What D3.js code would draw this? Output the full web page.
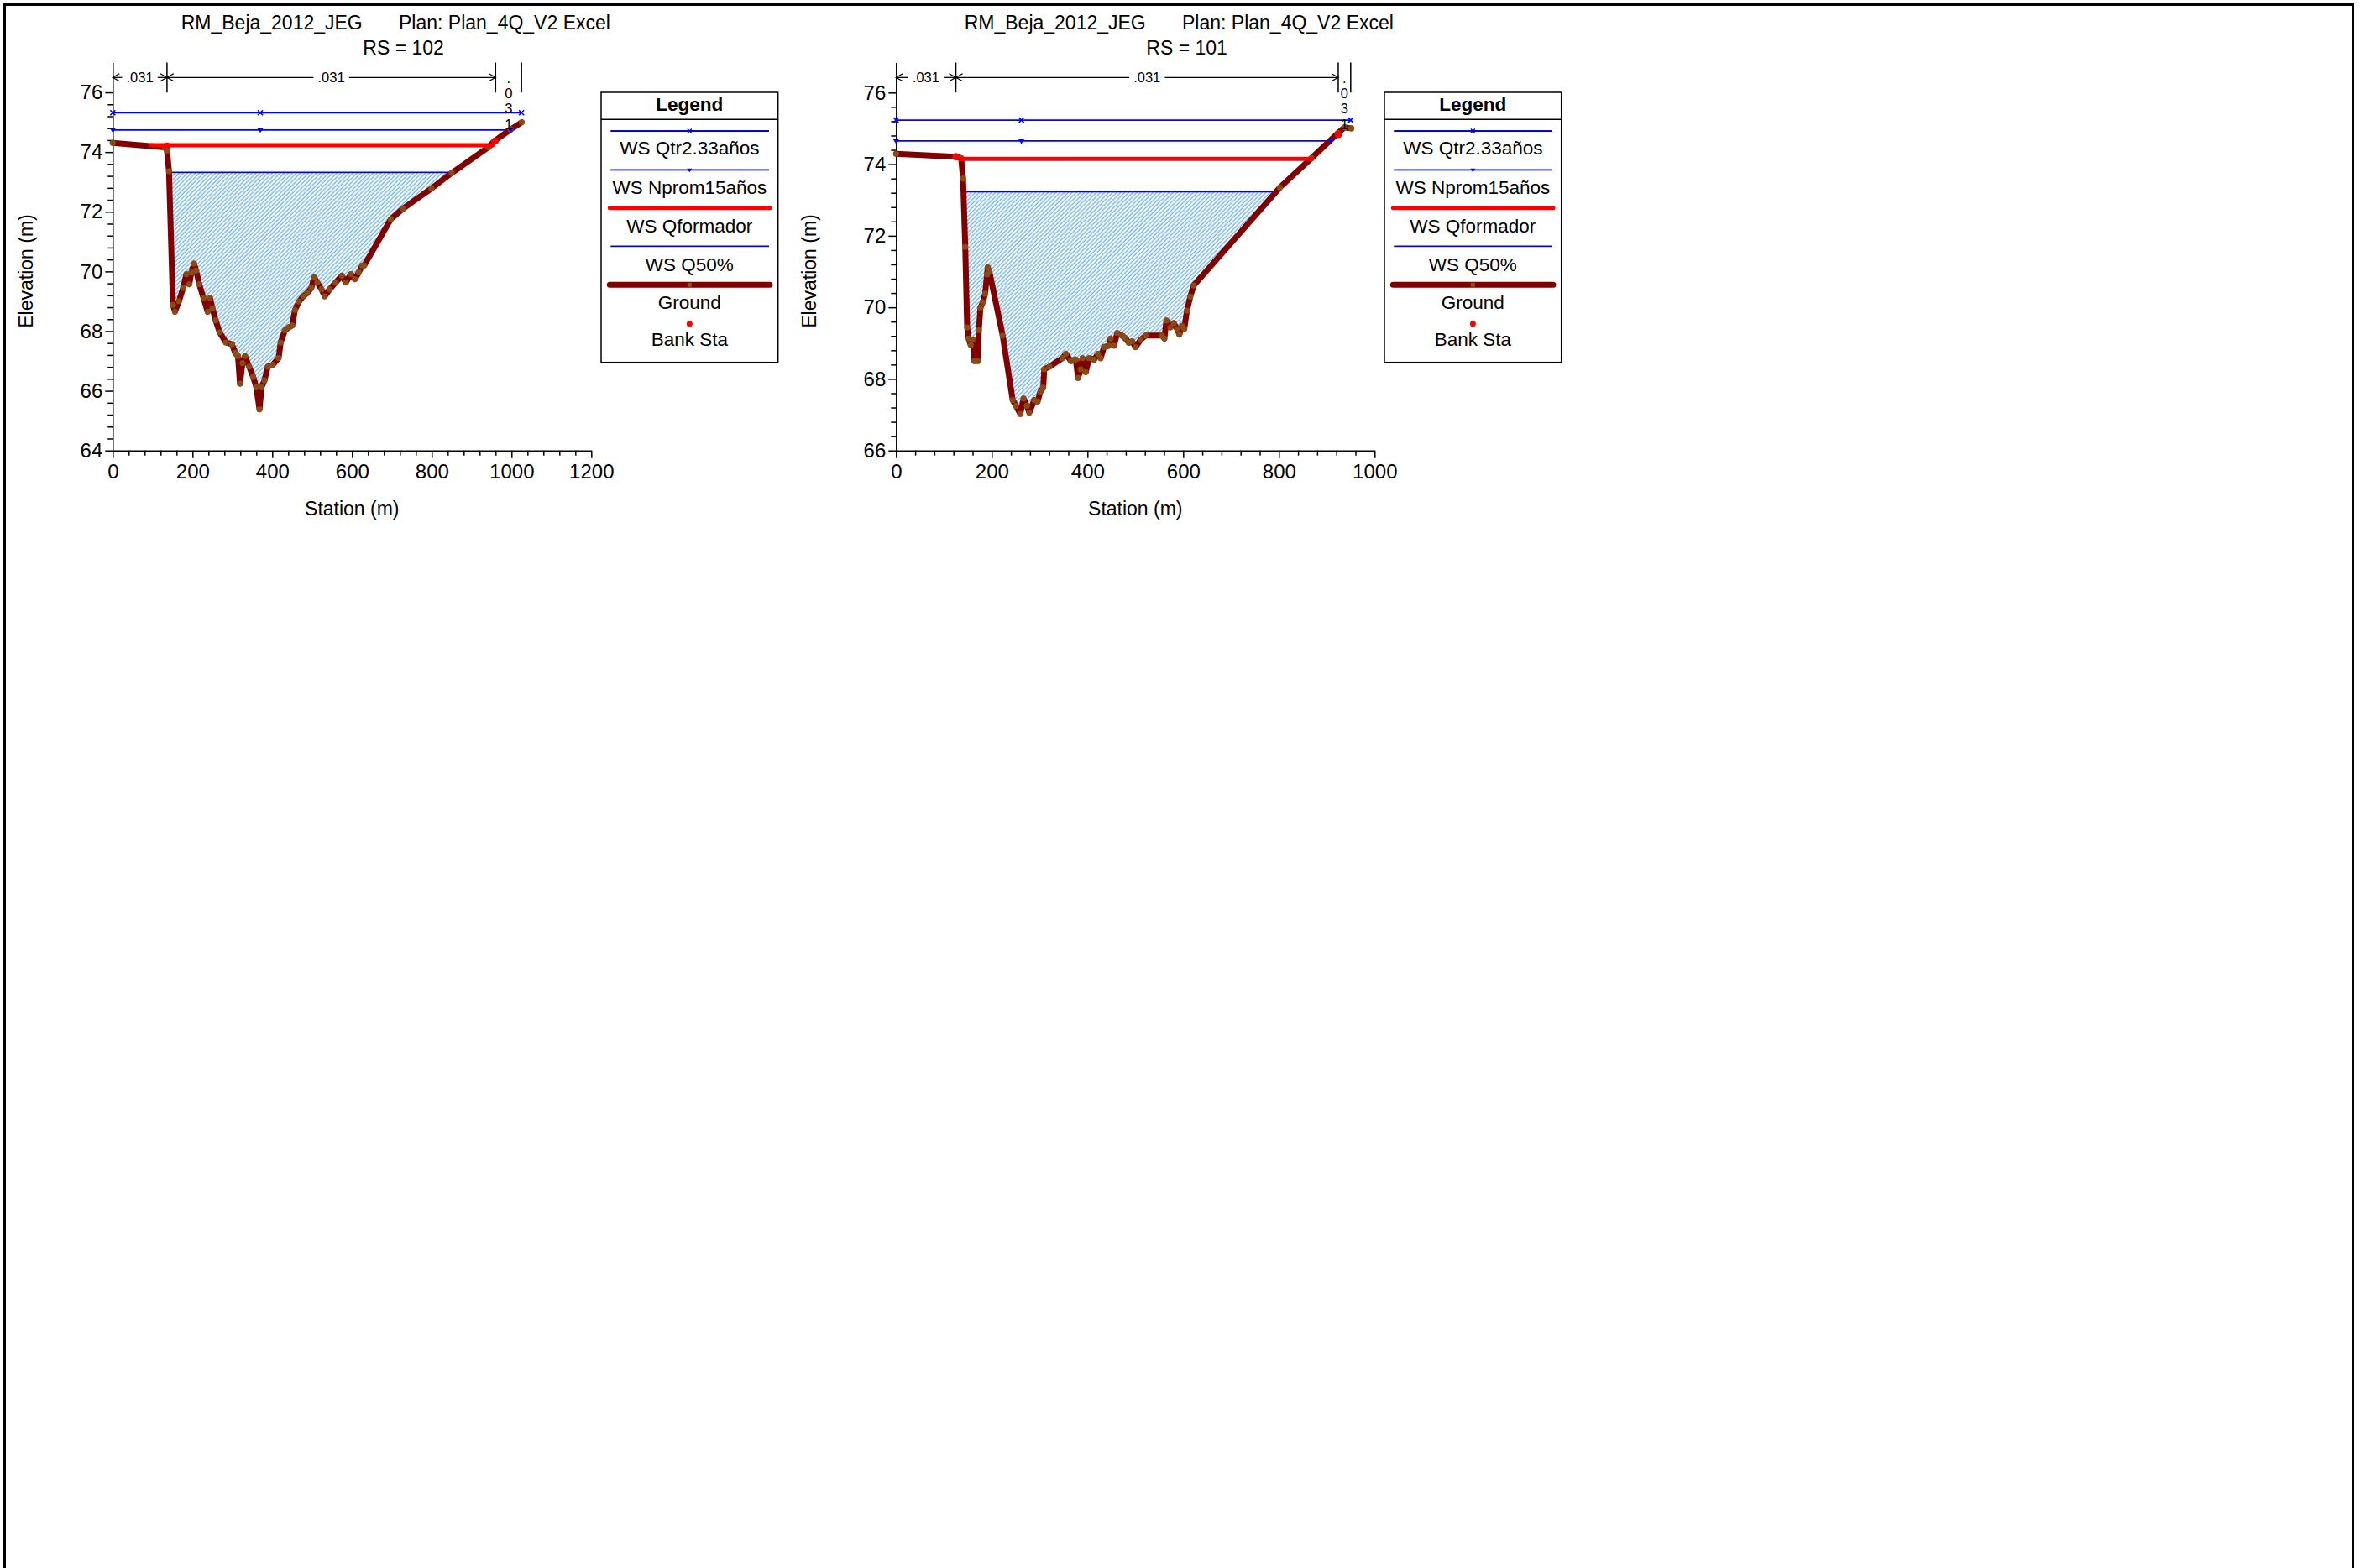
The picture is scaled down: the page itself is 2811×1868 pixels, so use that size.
<!DOCTYPE html>
<html><head><meta charset="utf-8">
<script src="https://cdn.jsdelivr.net/npm/d3@7"></script>
<style>
html,body{margin:0;padding:0;background:#fff;}
svg{display:block;}
text{font-family:"Liberation Sans",Arial,Helvetica,sans-serif;fill:#000;}
</style></head><body>
<svg id="chart" width="2811" height="1868"></svg>
<script>
// ---------------- DATA ----------------
const projectName = "RM_Beja_2012_JEG";
const planName = "Plan: Plan_4Q_V2 Excel";
const riverStations = ["102", "101"];
const legendLabels = ["WS Qtr2.33años", "WS Nprom15años", "WS Qformador", "WS Q50%", "Ground", "Bank Sta"];
const xAxisTitle = "Station (m)";
const yAxisTitle = "Elevation (m)";

// RS = 102 ground
const rs102Station = [0, 130.6, 136, 141, 151, 156, 166, 176.5, 184.7, 192, 197, 204, 209, 217, 227.6, 238, 244, 250, 258, 268, 283.7, 299, 307, 314, 319, 325.5, 331.6, 342, 352, 360, 368, 373, 380.6, 388.8, 401, 416, 421, 431.6, 441.8, 450, 457, 467, 477.6, 487.8, 498, 505, 513, 523.5, 531.6, 543.9, 559, 574.5, 584.7, 597, 607, 617, 625.5, 630.6, 697, 727.6, 799, 850, 942, 957, 998, 1025.5];
const rs102Elev = [74.31, 74.16, 74.05, 73.36, 68.88, 68.65, 69.0, 69.45, 69.91, 69.57, 69.97, 70.26, 70.03, 69.57, 69.11, 68.65, 69.11, 68.76, 68.36, 67.96, 67.62, 67.56, 67.27, 67.16, 66.24, 66.93, 67.16, 66.81, 66.47, 66.12, 65.38, 66.12, 66.35, 66.81, 66.87, 67.10, 67.62, 68.02, 68.13, 68.19, 68.71, 68.99, 69.17, 69.28, 69.45, 69.80, 69.63, 69.40, 69.17, 69.40, 69.63, 69.86, 69.63, 69.91, 69.74, 69.97, 70.20, 70.20, 71.75, 72.10, 72.78, 73.30, 74.16, 74.37, 74.76, 75.0];
// water surfaces (Qtr2.33, Nprom15, Qformador, Q50%)
const rs102WSElev = [75.32, 74.74, 74.23, 73.32];
const rs102WSFrom = [0, 0, 97, 141];
const rs102WSTo = [1025, 998, 952, 850];
const rs102QtrMarks = [0, 370, 1025];
const rs102NpromMarks = [0, 370, 998];
const rs102BankSta = [136, 959];
const rs102BankElev = [74.20, 74.37];
const rs102NBreaks = [0, 136, 960, 1025];
const rs102NValues = [".031", ".031", ".031"];

// RS = 101 ground
const rs101Station = [0, 125, 136, 140, 144.6, 148.6, 151.4, 156, 160.4, 163.9, 170.9, 173, 176.3, 181.2, 186.1, 190.2, 191.6, 195, 222.8, 243.7, 250.5, 259.6, 266.5, 273.5, 278.4, 288.8, 295.7, 301.4, 307.6, 309.6, 320.6, 347.7, 354.7, 365.1, 375.4, 380.4, 385.9, 389.4, 396.4, 403.3, 413.7, 422, 427.5, 434.5, 444.9, 448.3, 455.3, 462.1, 472.6, 479.5, 486.5, 493.4, 500.4, 510.8, 521.2, 555.8, 560.7, 564.9, 573.2, 580.2, 587.2, 592, 597.5, 602.3, 607.9, 614.8, 621.8, 802.1, 868.1, 923.5, 937.4, 951.3];
const rs101Elev = [74.29, 74.21, 74.17, 73.6, 71.69, 69.44, 69.13, 68.95, 69.1, 68.5, 68.5, 69.36, 69.99, 70.14, 70.38, 70.92, 71.12, 71.0, 69.21, 67.41, 67.25, 67.02, 67.45, 67.25, 67.06, 67.41, 67.37, 67.64, 67.76, 68.27, 68.34, 68.58, 68.70, 68.5, 68.54, 68.03, 68.27, 68.58, 68.19, 68.58, 68.54, 68.7, 68.58, 68.89, 68.93, 69.13, 68.93, 69.28, 69.21, 69.13, 69.01, 69.05, 68.89, 69.09, 69.21, 69.21, 69.13, 69.63, 69.44, 69.56, 69.40, 69.24, 69.48, 69.40, 69.91, 70.30, 70.61, 73.35, 74.17, 74.87, 75.03, 75.0];
const rs101WSElev = [75.23, 74.65, 74.15, 73.23];
const rs101WSFrom = [0, 0, 133.5, 142];
const rs101WSTo = [950, 909, 869, 794];
const rs101QtrMarks = [0, 262, 950];
const rs101NpromMarks = [0, 262, 909];
const rs101BankSta = [125, 924.5];
const rs101BankElev = [74.21, 74.83];
const rs101NBreaks = [0, 125, 924, 950];
const rs101NValues = [".031", ".031", ".031"];

// axis ranges
const rs102XMax = 1200, rs102YMin = 64, rs102YTop = 77.0;
const rs101XMax = 1000, rs101YMin = 66, rs101YTop = 76.84;

// ---------------- DRAWING ----------------
const svg = d3.select("#chart");
const H = 1868;
const FONT = 23;
const TICKFONT = 24;

const defs = svg.append("defs");
defs.append("pattern").attr("id", "hatch")
  .attr("patternUnits", "userSpaceOnUse")
  .attr("width", 3.4).attr("height", 3.4)
  .attr("patternTransform", "rotate(45)")
  .append("line").attr("x1", 1).attr("y1", 0).attr("x2", 1).attr("y2", 3.4)
  .attr("stroke", "#4da3f2").attr("stroke-width", 1.1);

// frame
svg.append("path")
  .attr("d", `M5.5,${H + 10} L5.5,5.5 L2802.5,5.5 L2802.5,${H + 10}`)
  .attr("fill", "none").attr("stroke", "#000").attr("stroke-width", 3);

const panels = [
  { dx: 0, rs: riverStations[0], sta: rs102Station, elev: rs102Elev, wsElev: rs102WSElev, wsFrom: rs102WSFrom, wsTo: rs102WSTo,
    qtrMarks: rs102QtrMarks, npromMarks: rs102NpromMarks, bankSta: rs102BankSta, bankElev: rs102BankElev,
    nBreaks: rs102NBreaks, nValues: rs102NValues, xMax: rs102XMax, yMin: rs102YMin, yTop: rs102YTop },
  { dx: 933, rs: riverStations[1], sta: rs101Station, elev: rs101Elev, wsElev: rs101WSElev, wsFrom: rs101WSFrom, wsTo: rs101WSTo,
    qtrMarks: rs101QtrMarks, npromMarks: rs101NpromMarks, bankSta: rs101BankSta, bankElev: rs101BankElev,
    nBreaks: rs101NBreaks, nValues: rs101NValues, xMax: rs101XMax, yMin: rs101YMin, yTop: rs101YTop }
];

const BLUE = "#0000ff", RED = "#ff0000", MAROON = "#800000", PT = "#8a5216";

function near(a, b) { return Math.abs(a - b) < 1e-6; }

panels.forEach(p => {
  const g = svg.append("g");
  const x = d3.scaleLinear().domain([0, p.xMax]).range([134.3 + p.dx, 704.3 + p.dx]);
  const y = d3.scaleLinear().domain([p.yMin, p.yTop]).range([536.7, 74.5]);
  const pts = p.sta.map((s, i) => [s, p.elev[i]]);

  // ---- hatch for Q50% (index 3): area between WS and ground where ground is below WS ----
  const ws = p.wsElev[3];
  const aug = [];
  for (let i = 0; i < pts.length; i++) {
    if (i > 0) {
      const [s0, e0] = pts[i - 1], [s1, e1] = pts[i];
      if ((e0 - ws) * (e1 - ws) < 0) {
        const t = (ws - e0) / (e1 - e0);
        aug.push([s0 + t * (s1 - s0), ws]);
      }
    }
    aug.push(pts[i]);
  }
  g.append("path").datum(aug)
    .attr("d", d3.area().x(d => x(d[0])).y0(() => y(ws)).y1(d => y(Math.min(d[1], ws))))
    .attr("fill", "url(#hatch)").attr("stroke", "none");

  // ---- axes ----
  const xMajor = d3.range(0, p.xMax + 1, 200);
  const xMinor = d3.range(0, p.xMax + 1, 40).filter(v => v % 200 !== 0);
  const yMajor = d3.range(p.yMin, 76.01, 2);
  const yMinor = d3.range(0, Math.round((76 - p.yMin) / 0.4) + 1).map(k => +(p.yMin + k * 0.4).toFixed(2))
    .filter(v => !yMajor.some(m => near(m, v)));

  const gx = g.append("g").attr("transform", `translate(0,536.7)`)
    .call(d3.axisBottom(x).tickValues(xMajor).tickSize(9).tickSizeOuter(0).tickPadding(7).tickFormat(d3.format("d")));
  const gxm = g.append("g").attr("transform", `translate(0,536.7)`)
    .call(d3.axisBottom(x).tickValues(xMinor).tickSize(6).tickSizeOuter(0).tickFormat(""));
  gxm.select(".domain").remove();
  const gy = g.append("g").attr("transform", `translate(${134.3 + p.dx},0)`)
    .call(d3.axisLeft(y).tickValues(yMajor).tickSize(9).tickSizeOuter(0).tickPadding(3).tickFormat(d3.format("d")));
  const gym = g.append("g").attr("transform", `translate(${134.3 + p.dx},0)`)
    .call(d3.axisLeft(y).tickValues(yMinor).tickSize(6).tickSizeOuter(0).tickFormat(""));
  gym.select(".domain").remove();
  [gx, gxm, gy, gym].forEach(a => {
    a.selectAll("path,line").attr("stroke", "#000").attr("stroke-width", 1.5);
    a.selectAll("text").attr("font-size", TICKFONT).attr("font-family", "Liberation Sans, Arial, sans-serif").attr("fill", "#000");
  });

  // axis titles
  g.append("text").attr("x", (x.range()[0] + x.range()[1]) / 2).attr("y", 614)
    .attr("text-anchor", "middle").attr("font-size", FONT).text(xAxisTitle);
  g.append("text").attr("transform", `translate(${38.5 + p.dx},323) rotate(-90)`)
    .attr("text-anchor", "middle").attr("font-size", FONT).text(yAxisTitle);

  // titles
  g.append("text").attr("x", 215.7 + p.dx).attr("y", 34.7).attr("font-size", FONT).text(projectName);
  g.append("text").attr("x", 475 + p.dx).attr("y", 34.7).attr("font-size", FONT).text(planName);
  g.append("text").attr("x", 480.6 + p.dx).attr("y", 65.3).attr("text-anchor", "middle").attr("font-size", FONT).text("RS = " + p.rs);

  // ---- blue water surfaces ----
  [0, 1, 3].forEach(k => {
    g.append("line").attr("x1", x(p.wsFrom[k])).attr("x2", x(p.wsTo[k]))
      .attr("y1", y(p.wsElev[k])).attr("y2", y(p.wsElev[k]))
      .attr("stroke", BLUE).attr("stroke-width", 1.8);
  });

  // ---- ground ----
  g.append("path").datum(pts)
    .attr("d", d3.line().x(d => x(d[0])).y(d => y(d[1])))
    .attr("fill", "none").attr("stroke", MAROON).attr("stroke-width", 7)
    .attr("stroke-linejoin", "round").attr("stroke-linecap", "round");
  g.append("g").selectAll("circle").data(pts).join("circle")
    .attr("cx", d => x(d[0])).attr("cy", d => y(d[1])).attr("r", 3.6)
    .attr("fill", PT).attr("fill-opacity", 0.9);

  // ---- red Qformador ----
  g.append("line").attr("x1", x(p.wsFrom[2])).attr("x2", x(p.wsTo[2]))
    .attr("y1", y(p.wsElev[2])).attr("y2", y(p.wsElev[2]))
    .attr("stroke", RED).attr("stroke-width", 5).attr("stroke-linecap", "round");

  // markers
  const xm = (cx, cy, r) => `M${cx - r},${cy - r}L${cx + r},${cy + r}M${cx - r},${cy + r}L${cx + r},${cy - r}`;
  p.qtrMarks.forEach(s => {
    g.append("path").attr("d", xm(x(s), y(p.wsElev[0]), 3)).attr("stroke", BLUE).attr("stroke-width", 1.6).attr("fill", "none");
  });
  p.npromMarks.forEach(s => {
    const cx = x(s), cy = y(p.wsElev[1]);
    g.append("path").attr("d", `M${cx - 3.5},${cy - 2}L${cx + 3.5},${cy - 2}L${cx},${cy + 3.5}Z`).attr("fill", BLUE);
  });

  // bank stations
  p.bankSta.forEach((s, i) => {
    g.append("circle").attr("cx", x(s)).attr("cy", y(p.bankElev[i])).attr("r", 4.3).attr("fill", RED);
  });

  // ---- Manning's n annotation ----
  const topY = 74.5, botY = 110.2, arrY = 92.3, nFont = 16.5;
  p.nBreaks.forEach((b, i) => {
    if (i === 0) return;
    g.append("line").attr("x1", x(b)).attr("x2", x(b)).attr("y1", topY).attr("y2", botY)
      .attr("stroke", "#000").attr("stroke-width", 1.5);
  });
  const arrow = (ax, dir) => `M${ax - dir * 8},${arrY - 4.5}L${ax},${arrY}L${ax - dir * 8},${arrY + 4.5}`;
  p.nValues.forEach((v, i) => {
    const x0 = x(p.nBreaks[i]), x1 = x(p.nBreaks[i + 1]), xc = (x0 + x1) / 2;
    const tw = v.length * 0.46 * nFont;
    if (x1 - x0 > tw + 26) {
      g.append("text").attr("x", xc).attr("y", arrY + 6).attr("text-anchor", "middle").attr("font-size", nFont).text(v);
      g.append("line").attr("x1", x0).attr("x2", xc - tw / 2 - 6).attr("y1", arrY).attr("y2", arrY).attr("stroke", "#000").attr("stroke-width", 1.3);
      g.append("line").attr("x1", xc + tw / 2 + 6).attr("x2", x1).attr("y1", arrY).attr("y2", arrY).attr("stroke", "#000").attr("stroke-width", 1.3);
      g.append("path").attr("d", arrow(x0, -1)).attr("fill", "none").attr("stroke", "#000").attr("stroke-width", 1.3);
      g.append("path").attr("d", arrow(x1, 1)).attr("fill", "none").attr("stroke", "#000").attr("stroke-width", 1.3);
    } else {
      v.split("").forEach((c, k) => {
        g.append("text").attr("x", xc).attr("y", 99 + k * 18.2).attr("text-anchor", "middle").attr("font-size", nFont).text(c);
      });
    }
  });

  // ---- legend ----
  const L = 716 + p.dx, R = 926.7 + p.dx, T = 110, B = 431.7, cx = (L + R) / 2;
  const lg = g.append("g");
  lg.append("rect").attr("x", L).attr("y", T).attr("width", R - L).attr("height", B - T)
    .attr("fill", "#fff").attr("stroke", "#000").attr("stroke-width", 1.5);
  lg.append("line").attr("x1", L).attr("x2", R).attr("y1", 142.3).attr("y2", 142.3).attr("stroke", "#000").attr("stroke-width", 1.5);
  lg.append("text").attr("x", cx).attr("y", 131.7).attr("text-anchor", "middle").attr("font-size", 22.5).attr("font-weight", "bold").text("Legend");
  const lineY = [156, 202.3, 247.7, 293.3, 339.3, 385.7];
  const textY = [184.3, 230.5, 276.8, 322.8, 368, 412.3];
  const lx0 = L + 11.3, lx1 = R - 10.7;
  lineY.forEach((ly, k) => {
    if (k === 0 || k === 1 || k === 3) {
      lg.append("line").attr("x1", lx0).attr("x2", lx1).attr("y1", ly).attr("y2", ly).attr("stroke", BLUE).attr("stroke-width", 1.8);
      if (k === 0) lg.append("path").attr("d", xm(cx, ly, 2.5)).attr("stroke", BLUE).attr("stroke-width", 1.4);
      if (k === 1) lg.append("path").attr("d", `M${cx - 3},${ly - 1.5}L${cx + 3},${ly - 1.5}L${cx},${ly + 3}Z`).attr("fill", BLUE);
    } else if (k === 2) {
      lg.append("line").attr("x1", lx0 - 1).attr("x2", lx1 + 1).attr("y1", ly).attr("y2", ly).attr("stroke", RED).attr("stroke-width", 5).attr("stroke-linecap", "round");
    } else if (k === 4) {
      lg.append("line").attr("x1", lx0 - 1).attr("x2", lx1 + 1).attr("y1", ly).attr("y2", ly).attr("stroke", MAROON).attr("stroke-width", 7).attr("stroke-linecap", "round");
      lg.append("rect").attr("x", cx - 2.5).attr("y", ly - 2.5).attr("width", 5).attr("height", 5).attr("fill", PT);
    } else {
      lg.append("circle").attr("cx", cx).attr("cy", ly).attr("r", 3.5).attr("fill", RED);
    }
    lg.append("text").attr("x", cx).attr("y", textY[k]).attr("text-anchor", "middle").attr("font-size", 22.5).text(legendLabels[k]);
  });
});
</script>
</body></html>
